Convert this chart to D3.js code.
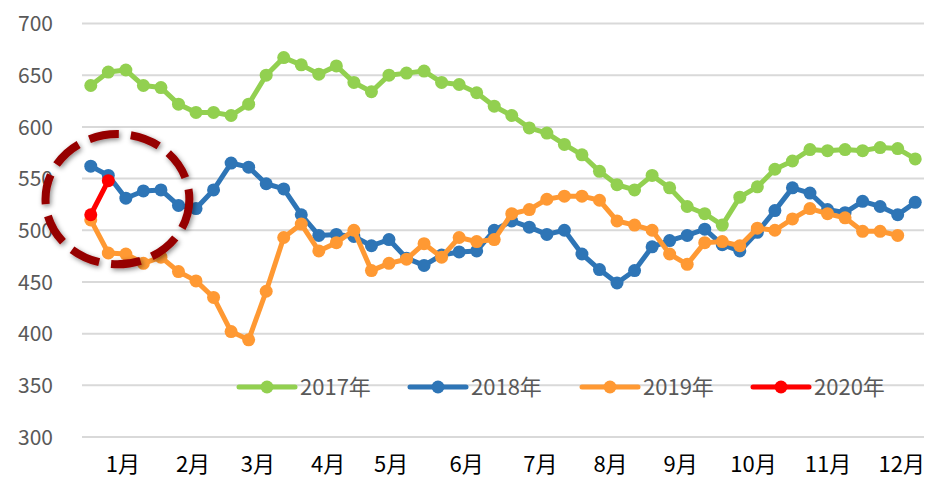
<!DOCTYPE html>
<html>
<head>
<meta charset="utf-8">
<script src="https://cdn.jsdelivr.net/npm/d3@7"></script>
<style>
  html, body { margin: 0; padding: 0; background: #ffffff; }
  #chart { width: 930px; height: 477px; }
</style>
</head>
<body>
<div id="chart"></div>
<script>
// weekly values, 4 points per month (48 weeks)
const weeks = d3.range(48);

const values2017 = [640, 653, 655, 640, 638, 622, 614, 614, 611, 622, 650, 667,
                    660, 651, 659, 643, 634, 650, 652, 654, 643, 641, 633, 620,
                    611, 599, 594, 583, 573, 557, 544, 539, 553, 541, 523, 516,
                    505, 532, 542, 559, 567, 578, 577, 578, 577, 580, 579, 569];

const values2018 = [562, 553, 531, 538, 539, 524, 521, 539, 565, 561, 545, 540,
                    515, 495, 496, 494, 485, 491, 473, 466, 476, 479, 480, 500,
                    509, 503, 496, 500, 477, 462, 449, 461, 484, 490, 495, 501,
                    486, 480, 498, 519, 541, 536, 520, 517, 528, 523, 515, 527];

const values2019 = [510, 478, 477, 468, 474, 460, 451, 435, 402, 394, 441, 493,
                    506, 480, 488, 500, 461, 468, 472, 487, 474, 493, 489, 491,
                    516, 520, 530, 533, 533, 529, 509, 505, 500, 477, 467, 488,
                    489, 485, 502, 500, 511, 521, 516, 512, 499, 499, 495];

const values2020 = [515, 548];

const seriesNames = ['2017年', '2018年', '2019年', '2020年'];
const seriesColors = ['#92D050', '#2E75B6', '#FF9933', '#FF0000'];

// month labels sit at these week positions on the axis
const monthLabels = ['1月', '2月', '3月', '4月', '5月', '6月', '7月', '8月', '9月', '10月', '11月', '12月'];
const monthWeekPos = [1.8, 5.8, 9.5, 13.5, 17.1, 21.4, 25.6, 29.6, 33.6, 37.75, 42.0, 46.2];

const yTicks = [300, 350, 400, 450, 500, 550, 600, 650, 700];

// highlight around the 2020 start: centre (week, value), radii (weeks, value units)
const highlightCenter = [1.52, 530];
const highlightRadius = [4.1, 63];

window.drawChart = function() {
    console.log('=== Creating line chart ===');
    try {
        const width = 930;
        const height = 477;
        const plotLeft = 82;
        const plotRight = 924;
        const plotTop = 23.5;
        const plotBottom = 437;
        const font = '"Noto Sans CJK JP", "Noto Sans", sans-serif';

        const svg = d3.select('#chart')
            .append('svg')
            .attr('width', width)
            .attr('height', height);

        svg.append('rect')
            .attr('width', width)
            .attr('height', height)
            .attr('fill', '#ffffff');

        const defs = svg.append('defs');
        const shadow = defs.append('filter')
            .attr('id', 'ringShadow')
            .attr('x', '-20%').attr('y', '-20%')
            .attr('width', '140%').attr('height', '140%');
        shadow.append('feDropShadow')
            .attr('dx', 1.5)
            .attr('dy', 2)
            .attr('stdDeviation', 2.5)
            .attr('flood-color', '#000')
            .attr('flood-opacity', 0.45);

        // scales
        const x = d3.scaleLinear()
            .domain([-0.5, weeks.length - 0.5])
            .range([plotLeft, plotRight]);

        const y = d3.scaleLinear()
            .domain([300, 700])
            .range([plotBottom, plotTop]);

        // horizontal gridlines
        svg.append('g')
            .selectAll('line')
            .data(yTicks)
            .enter()
            .append('line')
            .attr('x1', plotLeft)
            .attr('x2', plotRight)
            .attr('y1', d => y(d))
            .attr('y2', d => y(d))
            .attr('stroke', '#D9D9D9')
            .attr('stroke-width', 2);

        // y axis labels
        const yAxis = d3.axisLeft(y)
            .tickValues(yTicks)
            .tickSize(0)
            .tickPadding(0);
        const yg = svg.append('g')
            .attr('transform', `translate(53,0)`)
            .call(yAxis);
        yg.select('.domain').remove();
        yg.selectAll('text')
            .attr('fill', '#595959')
            .attr('font-family', font)
            .attr('font-size', 21)
            .attr('dy', '0.34em');

        // x axis month labels
        const xAxis = d3.axisBottom(x)
            .tickValues(monthWeekPos)
            .tickFormat((d, i) => monthLabels[i])
            .tickSize(0)
            .tickPadding(0);
        const xg = svg.append('g')
            .attr('transform', `translate(0,${plotBottom + 28})`)
            .call(xAxis);
        xg.select('.domain').remove();
        xg.selectAll('text')
            .attr('fill', '#000000')
            .attr('font-family', font)
            .attr('font-size', 22)
            .attr('dy', '0.32em');

        // legend (drawn before the series, sits on the 350 gridline)
        const legendX = [239, 410, 582, 753];
        const legendY = 387;
        const legend = svg.append('g')
            .selectAll('g')
            .data(seriesNames)
            .enter()
            .append('g')
            .attr('transform', (d, i) => `translate(${legendX[i]},${legendY})`);
        legend.append('line')
            .attr('x1', 0).attr('x2', 56)
            .attr('y1', 0).attr('y2', 0)
            .attr('stroke', (d, i) => seriesColors[i])
            .attr('stroke-width', 5)
            .attr('stroke-linecap', 'round');
        legend.append('circle')
            .attr('cx', 28).attr('cy', 0)
            .attr('r', 6.5)
            .attr('fill', (d, i) => seriesColors[i]);
        legend.append('text')
            .attr('x', 61)
            .attr('y', 0)
            .attr('dy', '0.35em')
            .attr('fill', '#595959')
            .attr('font-family', font)
            .attr('font-size', 22)
            .text(d => d);

        // series
        const allSeries = [values2017, values2018, values2019, values2020];
        const line = d3.line()
            .x((d, i) => x(i))
            .y(d => y(d));

        allSeries.forEach((vals, s) => {
            const g = svg.append('g');
            g.append('path')
                .datum(vals)
                .attr('d', line)
                .attr('fill', 'none')
                .attr('stroke', seriesColors[s])
                .attr('stroke-width', 5)
                .attr('stroke-linejoin', 'round')
                .attr('stroke-linecap', 'round');
            g.selectAll('circle')
                .data(vals)
                .enter()
                .append('circle')
                .attr('cx', (d, i) => x(i))
                .attr('cy', d => y(d))
                .attr('r', 6.5)
                .attr('fill', seriesColors[s]);
        });

        // dashed highlight ring
        const cx = x(highlightCenter[0]);
        const cy = y(highlightCenter[1]);
        const rx = x(highlightRadius[0]) - x(0);
        const ry = y(0) - y(highlightRadius[1]);
        svg.append('ellipse')
            .attr('cx', cx)
            .attr('cy', cy)
            .attr('rx', rx)
            .attr('ry', ry)
            .attr('fill', 'none')
            .attr('stroke', '#960000')
            .attr('stroke-width', 8)
            .attr('stroke-dasharray', '30,12')
            .attr('filter', 'url(#ringShadow)');

        console.log('chart rendered');
    } catch (error) {
        console.error('Error in drawChart:', error);
    }
};

window.drawChart();
</script>
</body>
</html>
